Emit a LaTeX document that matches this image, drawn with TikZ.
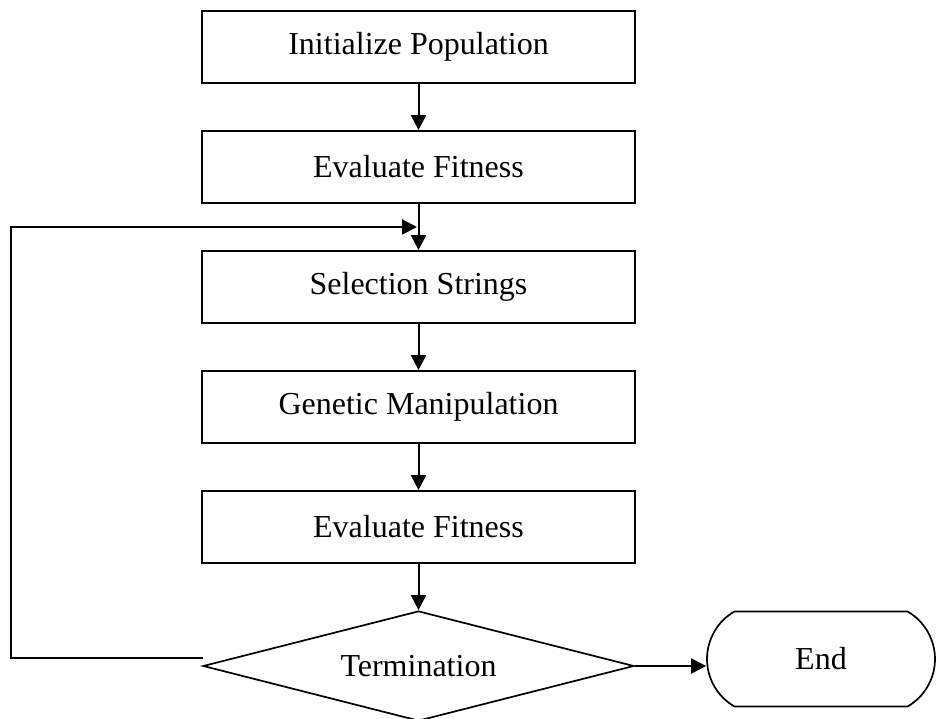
\documentclass[tikz,border=0pt]{standalone}
\usepackage{fontspec}
\setmainfont{Liberation Serif}
\usetikzlibrary{shapes.geometric,shapes.misc,arrows.meta}
\begin{document}
\begin{tikzpicture}[x=1pt,y=-1pt,
  txt/.style={font=\fontsize{32}{38}\selectfont},
  stepbox/.style={txt,draw,line width=1.7pt,minimum width=433pt,minimum height=72pt,inner sep=0pt},
  decision/.style={txt,diamond,draw,line width=1.7pt,minimum width=431pt,minimum height=110pt,aspect=4,inner sep=0pt},
  terminal/.style={txt,rounded rectangle,rounded rectangle arc length=120,draw,line width=1.7pt,minimum width=228pt,minimum height=95pt,inner sep=0pt},
  flow/.style={line width=2pt,-{Triangle[length=15pt,width=15pt]}}]
\useasboundingbox (0,0) rectangle (938,719);
\node[stepbox] (init) at (418.5,47) {Initialize Population};
\node[stepbox] (eval1) at (418.5,167) {Evaluate Fitness};
\node[stepbox] (sel) at (418.5,287) {Selection Strings};
\node[stepbox] (gen) at (418.5,407) {Genetic Manipulation};
\node[stepbox] (eval2) at (418.5,527) {Evaluate Fitness};
\node[decision] (term) at (418.5,666) {Termination};
\node[terminal] (end) at (821,659) {End};
\coordinate (join) at (417,227);
\coordinate (fbstart) at (203,658);
\coordinate (fbleft) at (11,658);
\coordinate (fbtop) at (11,227);
\draw[flow] (init) -- (eval1);
\draw[flow] (eval1) -- (sel);
\draw[flow] (sel) -- (gen);
\draw[flow] (gen) -- (eval2);
\draw[flow] (eval2) -- (term);
\draw[flow] (term.east) -- (term.east -| end.west);
\draw[flow] (fbstart) -- (fbleft) -- (fbtop) -- (join);
\end{tikzpicture}
\end{document}
